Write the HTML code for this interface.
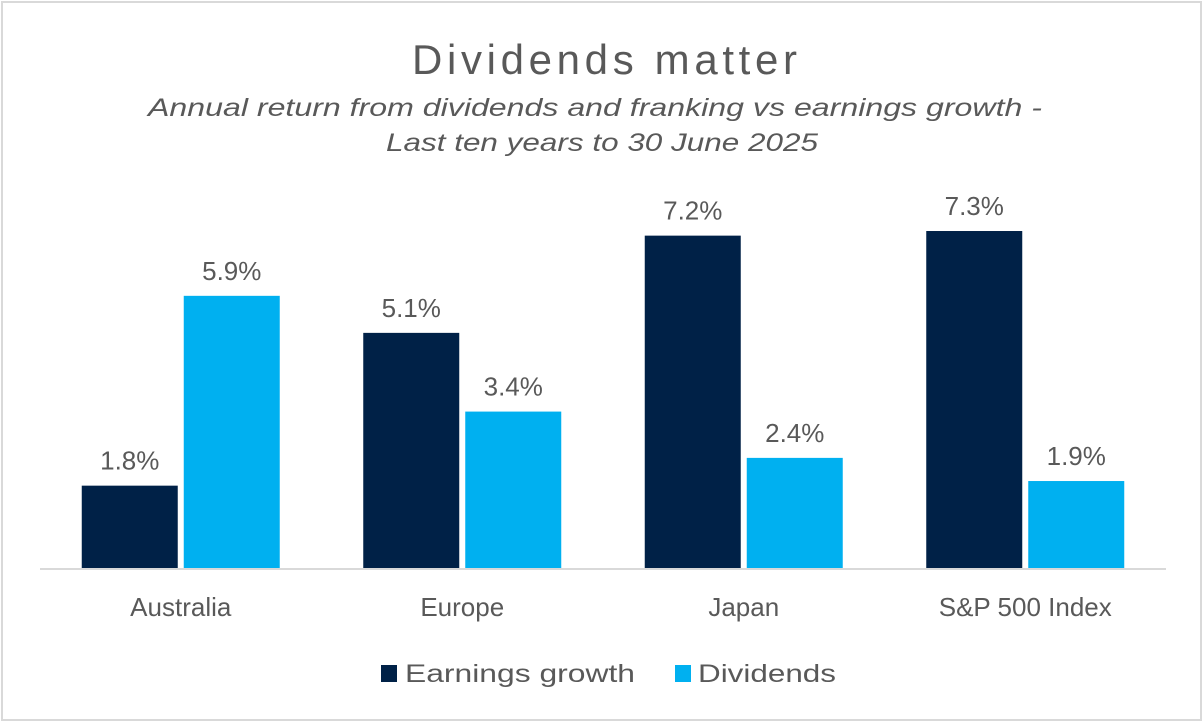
<!DOCTYPE html>
<html><head><meta charset="utf-8"><style>
body{margin:0;width:1204px;height:723px;background:#fff;overflow:hidden}
svg{font-family:"Liberation Sans",sans-serif}
</style></head><body>
<svg width="1204" height="723">
<rect x="2" y="2" width="1199" height="718" fill="#fff" stroke="#d9d9d9" stroke-width="2"/>
<text x="412" y="74" textLength="385" lengthAdjust="spacing" font-size="42" fill="#595959">Dividends matter</text>
<text x="148" y="116" textLength="894" lengthAdjust="spacingAndGlyphs" font-size="25" font-style="italic" fill="#595959">Annual return from dividends and franking vs earnings growth -</text>
<text x="386" y="151" textLength="432" lengthAdjust="spacingAndGlyphs" font-size="25" font-style="italic" fill="#595959">Last ten years  to 30 June 2025</text>
<g id="plot"></g>
<line x1="40" y1="569" x2="1166" y2="569" stroke="#d9d9d9" stroke-width="2"/>
<rect x="381" y="665" width="16" height="17" fill="#002147"/>
<text x="405" y="682" textLength="230" lengthAdjust="spacingAndGlyphs" font-size="25" fill="#595959">Earnings growth</text>
<rect x="675" y="665" width="16" height="17" fill="#00b0f0"/>
<text x="698" y="682" textLength="138" lengthAdjust="spacingAndGlyphs" font-size="25" fill="#595959">Dividends</text>
</svg>
<script>
const categories=["Australia","Europe","Japan","S&P 500 Index"];
const earnings=[1.8,5.1,7.2,7.3];
const dividends=[5.9,3.4,2.4,1.9];
const labelsE=["1.8%","5.1%","7.2%","7.3%"];
const labelsD=["5.9%","3.4%","2.4%","1.9%"];
const ns="http://www.w3.org/2000/svg";
const g=document.getElementById('plot');
const x0=40,bandW=281.5,base=569,pxPer=46.3;
const y=v=>base-v*pxPer;
function mk(t,a){const e=document.createElementNS(ns,t);for(const k in a)e.setAttribute(k,a[k]);g.appendChild(e);return e;}
categories.forEach((c,i)=>{
 const cx=x0+bandW*i+bandW/2;
 const r1=mk('rect',{x:cx-99,y:y(earnings[i]),width:96,height:earnings[i]*pxPer,fill:'#002147'});
 
 
 const r2=mk('rect',{x:cx+3,y:y(dividends[i]),width:96,height:dividends[i]*pxPer,fill:'#00b0f0'});
 
 
 const t1=mk('text',{x:cx-51,y:y(earnings[i])-16,'text-anchor':'middle','font-size':26,fill:'#595959'});t1.textContent=labelsE[i];
 
 
 const t2=mk('text',{x:cx+51,y:y(dividends[i])-16,'text-anchor':'middle','font-size':26,fill:'#595959'});t2.textContent=labelsD[i];
 
 
 const t3=mk('text',{x:cx,y:616,'text-anchor':'middle','font-size':26,fill:'#595959'});t3.textContent=c;
 
 
});
</script>
</body></html>
